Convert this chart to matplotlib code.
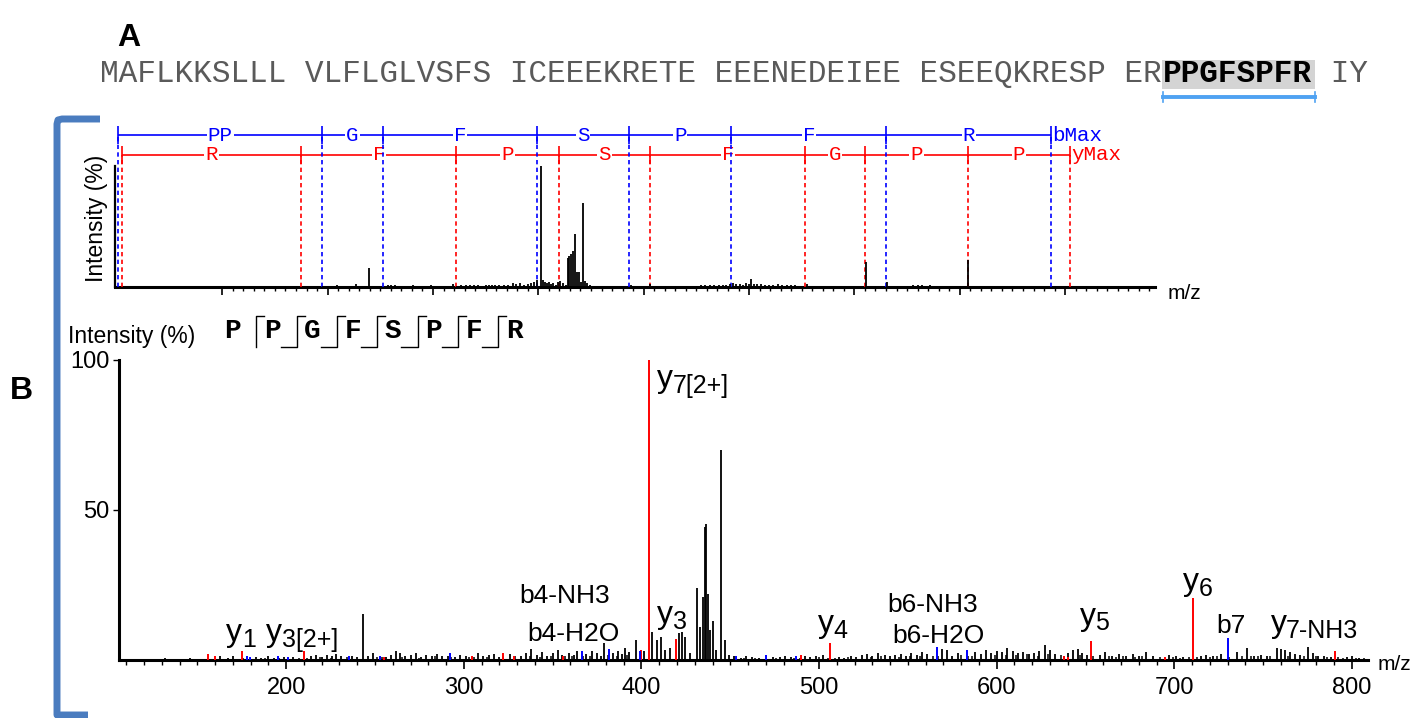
import matplotlib
matplotlib.use("Agg")
import matplotlib.pyplot as plt
from matplotlib.lines import Line2D
from matplotlib.patches import Rectangle
from matplotlib.transforms import offset_copy
from matplotlib.ticker import FixedLocator

plt.rcParams["font.family"] = ["Liberation Sans", "DejaVu Sans"]

# ------------------------------------------------------------------ data
sequence_pre = "MAFLKKSLLL VLFLGLVSFS ICEEEKRETE EEENEDEIEE ESEEQKRESP ER"
peptide = "PPGFSPFR"
sequence_post = " IY"

# panel B upper spectrum: fragment ladders
b_ions = [1.007, 195.09, 252.11, 399.18, 486.21, 583.27, 730.33, 886.44]
b_steps = ["PP", "G", "F", "S", "P", "F", "R"]
y_ions = [4.5, 175.12, 322.19, 419.24, 506.27, 653.34, 710.36, 807.41, 904.47]
y_steps = ["R", "F", "P", "S", "F", "G", "P", "P"]

top_mz = [180, 196, 208.7, 216, 226.9, 231, 239.3, 243, 249, 257, 260, 264, 268, 272,
          277, 281, 286, 290, 295, 298, 302, 305, 312, 319, 323, 327, 331, 335, 339,
          343, 346, 350, 353, 356, 359, 363, 367, 371, 376, 379, 383, 386, 390, 393,
          396, 398.5, 402.5, 404.5, 406, 408, 410, 412, 414, 417, 419, 421, 423, 426,
          428, 429.5, 431, 432.5, 434.8, 436.5, 438.6, 440.5, 442.4, 444, 446, 449,
          453, 458, 463, 469, 476, 481, 487.5, 493, 498, 506, 512, 518, 524, 529, 536,
          543, 549, 554, 558, 563, 567, 571, 575, 578, 582, 585, 588, 591, 594, 597,
          600, 602, 605, 608, 611, 615, 619, 623, 627, 631, 636, 640, 644, 648, 655,
          659, 664, 669, 675, 681, 687, 693, 700, 711, 718, 724, 731, 738, 745, 756,
          760, 764, 768, 772, 775, 789.5, 797, 808, 815, 824, 835, 848, 866]
top_int = [0.6, 0.8, 1.5, 0.8, 2.2, 0.6, 15.8, 1.0, 0.7, 1.6, 1.4, 1.6, 1.0, 1.2,
           1.0, 1.3, 0.8, 1.2, 1.0, 1.4, 1.2, 0.9, 1.0, 2.5, 1.2, 1.8, 1.3, 2.0, 1.5,
           1.9, 1.0, 1.6, 1.8, 1.6, 1.3, 1.7, 1.5, 1.6, 3.5, 2.2, 3.0, 1.8, 2.5, 3.2,
           4.0, 5.5, 100, 6.0, 4.5, 3.0, 3.8, 2.5, 3.2, 2.0, 4.0, 5.0, 3.5, 2.0,
           24, 26, 27, 30, 44, 12, 12, 4.0, 69, 5.0, 3.0, 1.5,
           1.2, 0.8, 1.0, 0.8, 1.0, 0.8, 1.6, 1.0, 0.8, 2.2, 0.8, 1.0, 1.2, 1.0, 1.1,
           0.8, 1.0, 1.5, 1.3, 1.6, 1.4, 1.8, 1.5, 2.0, 2.5, 3.0, 2.2, 2.6, 2.0, 3.1,
           2.4, 7.0, 2.8, 2.2, 2.5, 1.8, 2.0, 1.6, 2.1, 1.5, 1.8, 1.3, 1.6, 1.2, 2.5,
           1.0, 1.2, 0.8, 1.0, 0.8, 1.0, 0.7, 0.9, 21, 0.8, 0.9, 4.0, 0.8, 0.7, 1.5,
           1.3, 1.6, 1.2, 1.4, 1.0, 1.2, 0.7, 22, 0.6, 0.8, 0.5, 0.6, 0.5]

# panel B lower spectrum: unassigned peaks (black)
low_mz = [132, 139, 146, 150, 163, 167, 170, 183, 186, 190, 193, 199, 204, 214, 217,
          220, 223, 226, 228, 231, 237, 240, 243, 246, 249, 256, 259, 262, 264, 267,
          270, 273, 276, 279, 282, 285, 288, 291, 295, 298, 301, 308, 311, 314, 317,
          320, 326, 332, 335, 338, 341, 344, 347, 350, 353, 355, 359, 362, 364, 369,
          372, 375, 377, 379, 384, 387, 389, 391, 393, 396.7,
          401.5, 406.0, 408.5, 411.0, 413.5, 416.0, 421.4, 423.0, 424.8, 427.5, 431.0,
          433.0, 434.4, 435.5, 436.4, 437.3, 438.4, 440.0, 442.0, 444.8, 447.3, 449.5,
          452, 456, 459, 462, 466, 474, 478, 481, 484, 492, 495, 498, 502, 511, 514,
          518, 521, 524, 527, 530, 533, 537, 540, 543, 546, 549, 552, 555, 558, 561,
          569, 572, 575, 578, 588, 591, 594, 597, 600, 603, 606, 609, 612, 615, 618,
          621, 624, 627, 630, 633, 640, 643, 645.6, 648, 651, 658, 661, 665, 669, 673,
          676.6, 680, 684, 688, 697, 701, 705, 715, 718, 722, 726, 735, 741, 745, 749,
          752, 758, 760, 762, 765, 768, 771, 775, 778, 781, 784, 788, 797, 800, 804]
low_int = [0.6, 0.5, 0.8, 0.5, 1.2, 0.8, 1.5, 1.0, 0.7, 1.3, 0.8, 1.0, 0.9, 1.2, 1.6,
           1.0, 1.8, 1.5, 2.0, 1.2, 1.4, 1.0, 15.2, 1.2, 2.4, 1.0, 1.6, 2.9, 2.5, 1.3,
           1.8, 2.2, 1.0, 1.6, 1.4, 2.0, 1.2, 1.5, 1.0, 1.8, 1.3, 2.4, 1.2, 1.6, 1.9,
           1.1, 2.0, 1.5, 2.3, 3.6, 1.8, 2.6, 1.4, 2.2, 3.5, 1.7, 2.4, 1.8, 2.9, 2.0,
           3.1, 2.2, 1.5, 5.6, 2.5, 3.0, 2.0, 4.0, 2.8, 6.7,
           3.0, 9.5, 6.8, 7.6, 3.5, 4.0, 9.0, 9.5, 7.6, 2.5, 24.0,
           11.0, 21.0, 44.5, 45.5, 22.0, 10.0, 13.0, 3.5, 70.0, 6.6, 1.8,
           1.4, 0.8, 1.2, 1.0, 0.7, 1.0, 0.9, 1.3, 1.0, 1.5, 1.0, 1.2, 1.8, 1.1, 0.8,
           1.3, 1.0, 1.6, 1.9, 1.3, 2.2, 1.7, 1.2, 1.8, 2.0, 1.4, 2.3, 1.6, 2.6, 1.9,
           3.7, 3.2, 1.5, 2.4, 2.8, 2.1, 3.3, 2.5, 3.0, 2.6, 4.1, 2.9, 2.2, 2.7, 1.9,
           2.4, 3.0, 4.9, 3.2, 2.0, 2.5, 3.3, 3.8, 2.2, 1.6, 1.8, 2.6, 1.5, 2.0, 1.3,
           2.0, 1.2, 2.6, 1.4, 1.8, 1.2, 1.0, 1.2, 1.6, 1.3, 2.0, 2.6, 4.1, 1.5, 1.8,
           1.2, 4.1, 3.6, 3.2, 2.6, 2.0, 1.6, 4.3, 2.2, 1.5, 1.3, 1.0, 0.9, 1.2, 0.8]

# small baseline peaks between the ones above (black)
base_mz = [175.5, 181, 188, 196, 202, 207, 212, 219, 225, 234, 251, 254, 265, 275, 284,
           293, 303, 306, 313, 322, 329, 337, 343, 349, 357, 361, 367, 371, 381, 386,
           392, 458, 464, 471, 476, 486, 489, 500, 505, 509, 516, 529, 535, 545, 551,
           557, 564, 567, 580, 584, 586, 599, 605, 611, 617, 623, 629, 636, 638, 647,
           654, 663, 667, 671, 678, 682, 692, 699, 703, 708, 713, 720, 724, 731, 738,
           743, 747, 754, 764, 773, 780, 786, 792, 795, 802, 807]
base_int = [0.6, 0.5, 0.7, 0.6, 0.5, 0.8, 0.6, 0.9, 0.8, 1.0, 0.9, 1.1, 1.0, 0.8, 1.2,
            0.9, 1.0, 1.1, 0.9, 1.0, 1.3, 1.2, 1.1, 1.4, 1.2, 1.5, 1.3, 1.4, 1.6, 1.5,
            1.7, 0.6, 0.7, 0.5, 0.6, 0.8, 0.7, 0.9, 0.8, 0.7, 0.9, 1.1, 1.2, 1.0, 1.3,
            1.2, 1.5, 1.4, 1.6, 1.3, 1.5, 1.8, 1.6, 1.7, 1.9, 1.5, 2.0, 1.8, 1.3, 1.6,
            1.2, 1.3, 1.1, 1.4, 1.0, 1.2, 0.9, 1.0, 0.8, 1.1, 0.9, 1.0, 1.2, 1.1, 1.4,
            1.3, 1.2, 1.5, 1.4, 1.3, 1.2, 1.0, 0.9, 0.8, 0.7, 0.6]

# y-type matches (red) and b-type matches (blue)
red_mz = [156.0, 159.8, 175.1, 210.1, 255.0, 304.8, 322.2, 328.5, 356.0, 400.0,
          404.2, 419.2, 489.6, 506.3, 637.8, 640.0, 653.3, 694.7, 710.4, 790.4]
red_int = [2.0, 1.5, 2.9, 2.9, 1.0, 1.5, 2.2, 1.2, 1.3, 3.3,
           100.0, 7.0, 1.8, 5.7, 1.2, 1.0, 6.4, 1.0, 20.7, 3.0]
blue_mz = [177.7, 179.6, 195.5, 201.0, 235.5, 253.0, 292.0, 366.8, 381.5, 399.0,
           453.5, 470.0, 487.0, 566.3, 583.3, 730.4]
blue_int = [1.2, 1.0, 1.2, 1.0, 1.3, 1.5, 2.2, 2.9, 3.7, 3.0,
            1.5, 1.6, 1.3, 4.3, 3.2, 7.2]

ann_main = ["y", "y", "b4-NH3", "b4-H2O", "y", "y", "y", "b6-NH3", "b6-H2O", "y", "y", "b7", "y"]
ann_sub = ["1", "3[2+]", "", "", "3", "7[2+]", "4", "", "", "5", "6", "", "7-NH3"]
ann_mz = [166.2, 188.7, 331.0, 335.5, 409.0, 409.0, 499.2, 538.6, 541.4, 646.8, 704.8, 723.4, 754.1]
ann_int = [6.3, 6.3, 19.0, 6.3, 12.3, 91.0, 9.3, 16.0, 5.7, 11.7, 23.3, 9.0, 9.3]

bottom_major = [200, 300, 400, 500, 600, 700, 800]
bottom_minor = [v for v in range(110, 801, 10) if v % 100]
top_major = [100, 200, 300, 400, 500, 600, 700, 800, 900]
top_minor = [v for v in range(100, 981, 10) if v % 100]

# ------------------------------------------------------------------ figure
W, H = 1422, 718
fig = plt.figure(figsize=(W / 100, H / 100), dpi=100)


def fx(px):
    return px / W


def fy(py):
    return 1 - py / H


# ---- panel A: sequence
fig.text(fx(117), fy(46), "A", fontsize=23, fontweight="bold", va="baseline", ha="left")
char_w = 18.65
x0 = 100
seq_font = dict(family="Liberation Mono", fontsize=22.4, va="baseline", ha="left")
x_pep = x0 + len(sequence_pre) * char_w
x_post = x_pep + len(peptide) * char_w
fig.patches.append(Rectangle((fx(x_pep - 1), fy(89)), (len(peptide) * char_w + 4) / W, 29 / H,
                             transform=fig.transFigure, facecolor="#d4d4d4", edgecolor="none", zorder=0))
fig.text(fx(x0), fy(82), sequence_pre, color="#5a5a5a", **seq_font)
fig.text(fx(x_pep), fy(82), peptide, color="black", fontweight="bold", **seq_font)
fig.text(fx(x_post), fy(82), sequence_post, color="#5a5a5a", **seq_font)
ul_col = "#4fa2f2"
fig.lines.append(Line2D([fx(x_pep), fx(x_post + 3)], [fy(97), fy(97)], transform=fig.transFigure,
                        color=ul_col, lw=2.8))
for xx in (x_pep, x_post + 3):
    fig.lines.append(Line2D([fx(xx), fx(xx)], [fy(92), fy(102)], transform=fig.transFigure,
                            color=ul_col, lw=1.2))

# ---- panel B label and bracket
fig.text(fx(10), fy(399), "B", fontsize=23, fontweight="bold", va="baseline", ha="left")
fig.lines.append(Line2D([fx(100), fx(62), fx(58), fx(57), fx(57), fx(88)],
                        [fy(119), fy(119), fy(120), fy(124), fy(715), fy(715)],
                        transform=fig.transFigure, color="#4a7cbf", lw=5,
                        solid_joinstyle="round", solid_capstyle="butt"))

# ---- upper spectrum with fragment ladders
axA = fig.add_axes([fx(114.6), fy(287), (1155 - 114.6) / W, (287 - 120) / H])
axA.set_xlim(-2.2, 985.3)
axA.set_ylim(0, 138)
axA.vlines(top_mz, 0, top_int, color="black", lw=1.3, zorder=4)
for s in ("top", "right"):
    axA.spines[s].set_visible(False)
axA.spines["left"].set_bounds(0, 100)
axA.spines["left"].set_linewidth(1.6)
axA.spines["bottom"].set_linewidth(2.2)
axA.set_yticks([])
axA.xaxis.set_major_locator(FixedLocator(top_major))
axA.xaxis.set_minor_locator(FixedLocator(top_minor))
axA.tick_params(axis="x", which="major", length=6, width=1.2, labelbottom=False)
axA.tick_params(axis="x", which="minor", length=3, width=1.0)

blue_y, red_y, half = 125.6, 109.1, 7.4
dash = (0, (2.6, 2.0))
mono = dict(family="Liberation Mono", fontsize=15, ha="center", va="center")
for ions, steps, yy, col in ((b_ions, b_steps, blue_y, "#0000ff"), (y_ions, y_steps, red_y, "#ff0000")):
    axA.hlines(yy, ions[0], ions[-1], color=col, lw=1.2, zorder=1)
    axA.vlines(ions, yy - half, yy + half, color=col, lw=1.2, zorder=3)
    axA.vlines(ions, 0, yy, color=col, lw=1.2, linestyles=[dash], zorder=3)
    for a, b, lab in zip(ions[:-1], ions[1:], steps):
        axA.text((a + b) / 2, yy, lab, color=col, zorder=2,
                 bbox=dict(facecolor="white", edgecolor="none", pad=0.6), **mono)
axA.text(b_ions[-1] + 1.5, blue_y, "bMax", color="#0000ff", family="Liberation Mono",
         fontsize=15, ha="left", va="center")
axA.text(y_ions[-1] + 1.5, red_y, "yMax", color="#ff0000", family="Liberation Mono",
         fontsize=15, ha="left", va="center")
fig.text(fx(97), fy(218), "Intensity (%)", rotation=90, ha="center", va="center", fontsize=16.5)
fig.text(fx(1168), fy(293), "m/z", ha="left", va="center", fontsize=15)

# ---- lower annotated spectrum
axB = fig.add_axes([fx(119), fy(660), (1368 - 119) / W, 300 / H])
axB.set_xlim(105.9, 809)
axB.set_ylim(0, 100)
axB.vlines(base_mz, 0, base_int, color="black", lw=1.1, zorder=3)
axB.vlines(low_mz, 0, low_int, color="black", lw=1.3, zorder=3)
axB.vlines(red_mz, 0, red_int, color="#ff0000", lw=1.4, zorder=4)
axB.vlines(blue_mz, 0, blue_int, color="#0000ff", lw=1.4, zorder=4)
for s in ("top", "right"):
    axB.spines[s].set_visible(False)
axB.spines["left"].set_bounds(0, 100)
axB.spines["left"].set_linewidth(2.2)
axB.spines["bottom"].set_linewidth(2.2)
axB.set_yticks([50, 100])
axB.set_yticklabels(["50", "100"])
axB.tick_params(axis="y", length=4, width=1.0, pad=3, labelsize=17)
axB.xaxis.set_major_locator(FixedLocator(bottom_major))
axB.xaxis.set_minor_locator(FixedLocator(bottom_minor))
axB.set_xticklabels([str(v) for v in bottom_major])
axB.tick_params(axis="x", which="major", length=6.5, width=1.2, pad=6, labelsize=17)
axB.tick_params(axis="x", which="minor", length=3.5, width=1.0)
fig.text(fx(1378), fy(665), "m/z", ha="left", va="center", fontsize=15)
fig.text(fx(68), fy(343), "Intensity (%)", ha="left", va="baseline", fontsize=16.5)

for main, sub, mz, yy in zip(ann_main, ann_sub, ann_mz, ann_int):
    if sub:
        axB.text(mz, yy, main, fontsize=23, ha="left", va="baseline", zorder=5)
        tr = offset_copy(axB.transData, fig=fig, x=11.2, y=-4.0, units="points")
        axB.text(mz, yy, sub, fontsize=18, ha="left", va="baseline", transform=tr, zorder=5)
    else:
        axB.text(mz, yy, main, fontsize=19, ha="left", va="baseline", zorder=5)

# ---- peptide fragmentation map
letter_x0, letter_dx = 232, 40.3
for i, aa in enumerate(peptide):
    cx = letter_x0 + i * letter_dx
    fig.text(fx(cx), fy(331), aa, family="Liberation Mono", fontweight="bold", fontsize=20,
             ha="center", va="center")
    if i > 0:
        lx = cx - 16
        xs = [fx(lx), fx(lx), fx(lx + 8)]
        ys = [fy(347), fy(316), fy(316)]
        if i > 1:
            xs = [fx(lx - 16)] + xs
            ys = [fy(347)] + ys
        fig.lines.append(Line2D(xs, ys, transform=fig.transFigure, color="black", lw=1.0))

fig.savefig("out.png", dpi=100)
